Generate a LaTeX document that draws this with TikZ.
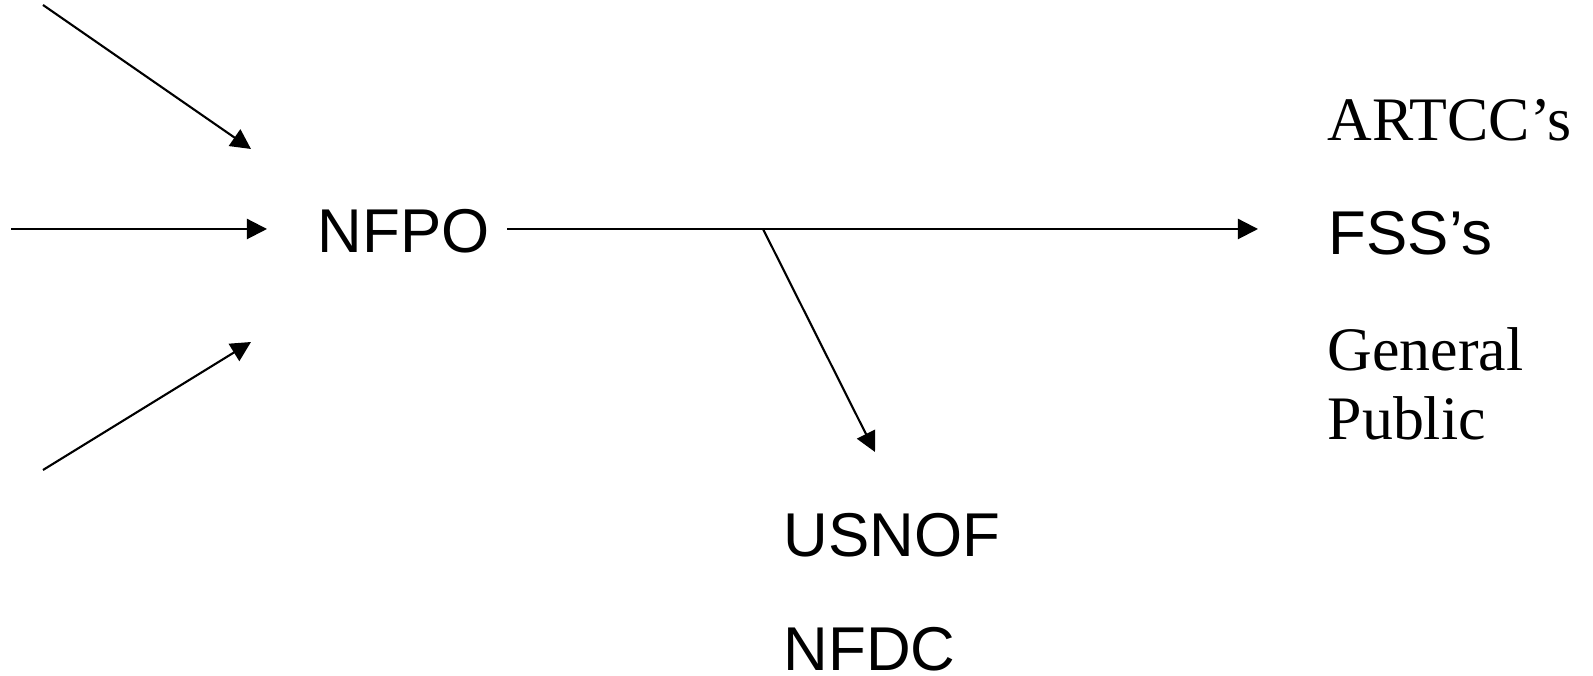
\documentclass[tikz,border=0pt]{standalone}
\usepackage{fontspec}
\setmainfont{Liberation Serif}
\newfontfamily\arial{Liberation Sans}
\usetikzlibrary{arrows.meta}

\tikzset{
  flow/.style={line width=0.6pt,-{Triangle[length=5.7pt,width=5.7pt]}},
  sanslab/.style={inner sep=0pt,anchor=base west,font=\arial\fontsize{17.6}{17.9}\selectfont},
  seriflab/.style={inner sep=0pt,anchor=base west,align=left,font=\fontsize{17.6}{19.9}\selectfont}
}

\begin{document}
\begin{tikzpicture}
      \useasboundingbox (0,0) rectangle (15.93,6.76);
      % labels
      \node[sanslab] (nfpo) at (3.17,4.23) {NFPO};
      \node[seriflab] (artcc) at (13.27,5.35) {ARTCC’s};
      \node[sanslab] (fss) at (13.28,4.21) {FSS’s};
      \node[seriflab] (public) at (13.27,2.36) {General\\Public};
      \node[sanslab] (usnof) at (7.83,1.19) {USNOF};
      \node[sanslab] (nfdc) at (7.83,0.05) {NFDC};
      % incoming arrows
      \foreach \n/\sx/\sy/\tx/\ty in {a/0.43/6.71/2.51/5.27, b/0.11/4.47/2.67/4.47, c/0.43/2.06/2.51/3.34}
      {
        \coordinate (in\n) at (\sx,\sy);
        \coordinate (to\n) at (\tx,\ty);
        \draw[flow] (in\n) -- (to\n);
      }
      % outgoing arrows
      \coordinate (out) at (5.07,4.47);
      \coordinate (split) at (7.63,4.47);
      \coordinate (tofss) at (12.58,4.47);
      \coordinate (tousnof) at (8.75,2.24);
      \draw[flow] (out) -- (tofss);
      \draw[flow] (split) -- (tousnof);
\end{tikzpicture}
\end{document}
